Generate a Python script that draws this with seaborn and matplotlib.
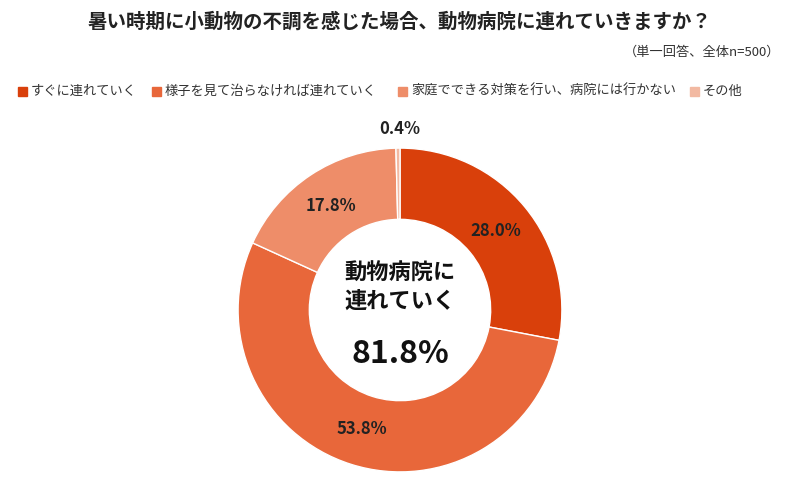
import matplotlib
matplotlib.use("Agg")
import matplotlib.pyplot as plt
import seaborn as sns

sns.set_theme(style="white")
plt.rcParams['font.family'] = ['Noto Sans CJK JP', 'DejaVu Sans']

categories = ["すぐに連れていく", "様子を見て治らなければ連れていく", "家庭でできる対策を行い、病院には行かない", "その他"]
values = [28.0, 53.8, 17.8, 0.4]
colors = ["#D9400B", "#E8673A", "#EE8D69", "#F2B9A2"]
title = "暑い時期に小動物の不調を感じた場合、動物病院に連れていきますか？"
subtitle = "（単一回答、全体n=500）"
center_text = "動物病院に\n連れていく"
center_value = "81.8%"

fig = plt.figure(figsize=(8, 4.78), dpi=100)
fig.text(0.5, 1 - 22/478, title, ha="center", va="center", fontsize=14, fontweight="bold", color="#222222")
fig.text(0.975, 1 - 52/478, subtitle, ha="right", va="center", fontsize=9.5, color="#333333")

# legend
lx = [18, 152, 398, 690]
for x, c, lab in zip(lx, colors, categories):
    fig.patches.append(plt.Rectangle((x/800, 1 - 96/478), 9/800, 9/478, transform=fig.transFigure, color=c))
    fig.text((x + 13)/800, 1 - 91/478, lab, ha="left", va="center", fontsize=9.5, color="#333333")

ax = fig.add_axes([230/800, -2/478, 340/800, 340/478])
wedges, texts, autotexts = ax.pie(values, colors=colors, startangle=90, counterclock=False,
                                  radius=1, wedgeprops=dict(width=0.44, edgecolor="white", linewidth=1),
                                  autopct="%.1f%%", pctdistance=0.77,
                                  textprops=dict(fontsize=12, fontweight="bold", color="#222222"))
autotexts[3].set_position((0.0, 1.12))
ax.set_xlim(-1.05, 1.05)
ax.set_ylim(-1.05, 1.05)
ax.set_aspect("equal")
ax.axis("off")
ax.text(0, 0.14, center_text, ha="center", va="center", fontsize=16, fontweight="bold", color="#111111", linespacing=1.3)
ax.text(0, -0.27, center_value, ha="center", va="center", fontsize=23, fontweight="bold", color="#111111")

fig.savefig("out.png", dpi=100)
